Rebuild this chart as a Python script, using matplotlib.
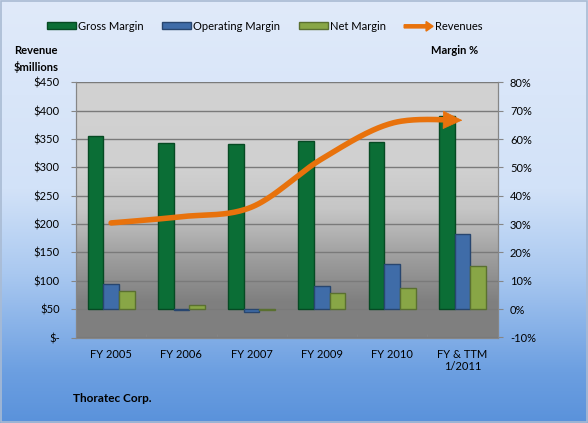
import numpy as np
import matplotlib
matplotlib.use("Agg")
import matplotlib.pyplot as plt
import matplotlib.patches as mpatches
from matplotlib.colors import LinearSegmentedColormap
from matplotlib.legend_handler import HandlerPatch
from matplotlib.ticker import FuncFormatter, FixedLocator

# ---- data ----
categories = ["FY 2005", "FY 2006", "FY 2007", "FY 2009", "FY 2010", "FY & TTM\n1/2011"]
gross_margin = [61.0, 58.7, 58.3, 59.3, 58.9, 68.1]
operating_margin = [9.0, -0.3, -1.0, 8.2, 15.9, 26.4]
net_margin = [6.4, 1.6, -0.3, 5.8, 7.4, 15.3]
revenues = [202, 213, 230, 315, 378, 383]
left_ticks = [0, 50, 100, 150, 200, 250, 300, 350, 400, 450]
right_ticks = [-10, 0, 10, 20, 30, 40, 50, 60, 70, 80]

plt.rcParams['font.family'] = ['Lato', 'DejaVu Sans']
plt.rcParams['font.size'] = 8

ORANGE = "#e8720c"
W, H = 588, 423
fig = plt.figure(figsize=(W / 100, H / 100), dpi=100)

# figure background gradient
bg = fig.add_axes([0, 0, 1, 1], zorder=-10)
bg_cmap = LinearSegmentedColormap.from_list(
    "bgc", [(0.0, "#5a92db"), (0.12, "#6c9fe1"), (0.35, "#a9c8f0"),
            (0.55, "#d2e2f8"), (1.0, "#e0eafa")])
grad = np.linspace(0, 1, 256).reshape(-1, 1)
bg.imshow(grad, cmap=bg_cmap, origin="lower", extent=[0, 1, 0, 1], aspect="auto")
bg.add_patch(mpatches.Rectangle((0.001, 0.002), 0.997, 0.996, fill=False,
                                edgecolor="#a9bbd3", linewidth=1.2))
bg.set_xlim(0, 1); bg.set_ylim(0, 1)
bg.axis("off")

left, right = 76 / W, 497.5 / W
bottom, top = 1 - 337.5 / H, 1 - 82.3 / H
ax = fig.add_axes([left, bottom, right - left, top - bottom])  # percent axis (bars)
ax2 = ax.twinx()  # dollar axis (line)

# plot area gradient
pa_cmap = LinearSegmentedColormap.from_list(
    "pac", [(0.0, "#7f7f7f"), (0.14, "#808080"), (0.3, "#9c9c9c"),
            (0.5, "#c6c6c6"), (0.65, "#d0d0d0"), (1.0, "#d2d2d2")])
ax.imshow(grad, cmap=pa_cmap, origin="lower", extent=[0, 1, 0, 1],
          transform=ax.transAxes, aspect="auto", zorder=0)

x = np.arange(len(categories))
bw = 0.222
ax.bar(x - bw, gross_margin, bw, color="#0b6e36", edgecolor="#064a23", linewidth=1.0, zorder=3)
ax.bar(x, operating_margin, bw, color="#3f6ca8", edgecolor="#28466f", linewidth=1.0, zorder=3)
ax.bar(x + bw, net_margin, bw, color="#88a646", edgecolor="#5a7030", linewidth=1.0, zorder=3)

ax.set_xlim(-0.5, len(categories) - 0.5)
ax.set_ylim(-10, 80)
ax.yaxis.set_major_locator(FixedLocator(right_ticks))
ax.yaxis.set_major_formatter(FuncFormatter(lambda v, p: f"{int(v)}%"))
ax.grid(axis="y", color="#7a7a7a", linewidth=1.0, zorder=1)
ax.set_axisbelow(True)
ax.yaxis.tick_right()
ax.tick_params(axis="y", which="major", direction="out", length=3.6, color="#868686",
               pad=5.4, labelsize=8)

# x ticks
ax.set_xticks(x)
ax.set_xticklabels(categories)
ax.tick_params(axis="x", which="major", length=0, pad=8, labelsize=8)
ax.set_xticks(np.arange(-0.5, len(categories)), minor=True)
ax.tick_params(axis="x", which="minor", direction="in", length=3, color="#868686")

for s in ["left", "right", "bottom"]:
    ax.spines[s].set_color("#868686")
    ax2.spines[s].set_color("#868686")
ax.spines["top"].set_visible(False)
ax2.spines["top"].set_visible(False)

# smooth revenue line (Hermite spline through the data points)
xs = x.astype(float)
ys = np.array(revenues, dtype=float)
P = np.vstack([xs, ys]).T
ext = np.vstack([P[0] - (P[1] - P[0]), P, P[-1] + (P[-1] - P[-2])])
curve = []
for i in range(1, len(ext) - 2):
    p0, p1, p2, p3 = ext[i - 1], ext[i], ext[i + 1], ext[i + 2]
    t1 = (p2 - p0) / 2
    t2 = (p3 - p1) / 2
    if i == 1:
        t1 = (p2 - p1) * 0.5
    if i == len(ext) - 3:
        t2 = (p2 - p1) * 0.5
    for t in np.linspace(0, 1, 40, endpoint=False):
        h00 = 2 * t**3 - 3 * t**2 + 1
        h10 = t**3 - 2 * t**2 + t
        h01 = -2 * t**3 + 3 * t**2
        h11 = t**3 - t**2
        curve.append(h00 * p1 + h10 * t1 + h01 * p2 + h11 * t2)
curve.append(P[-1])
curve = np.array(curve)
cut = len(curve) - 9
ax2.plot(curve[:cut + 1, 0], curve[:cut + 1, 1], color=ORANGE, linewidth=4.0,
         solid_capstyle="round", zorder=5)
ax2.annotate("", xy=(curve[-1, 0], curve[-1, 1]), xytext=(curve[cut - 2, 0], curve[cut - 2, 1]),
             arrowprops=dict(arrowstyle="-|>,head_length=1.3,head_width=0.62",
                             color=ORANGE, linewidth=0.6, mutation_scale=10,
                             shrinkA=0, shrinkB=0), zorder=6)

ax2.set_ylim(0, 450)
ax2.yaxis.set_major_locator(FixedLocator(left_ticks))
ax2.yaxis.set_major_formatter(FuncFormatter(lambda v, p: "$-" if v == 0 else f"${int(v)}"))
ax2.yaxis.tick_left()
ax2.tick_params(axis="y", direction="out", length=3.6, color="#868686", pad=8, labelsize=8)
ax2.patch.set_visible(False)

# legend
def make_arrow(legend, orig_handle, xdescent, ydescent, width, height, fontsize):
    return mpatches.FancyArrow(0, height / 2, width, 0, width=height * 0.5,
                               head_width=height * 1.5, head_length=height * 1.1,
                               length_includes_head=True, color=ORANGE)

handles = [
    mpatches.Patch(facecolor="#0b6e36", edgecolor="#064a23", label="Gross Margin"),
    mpatches.Patch(facecolor="#3f6ca8", edgecolor="#28466f", label="Operating Margin"),
    mpatches.Patch(facecolor="#88a646", edgecolor="#5a7030", label="Net Margin"),
    mpatches.FancyArrow(0, 0, 1, 0, color=ORANGE, label="Revenues"),
]
fig.legend(handles=handles, loc="center", bbox_to_anchor=(265 / W, 1 - 26 / H),
           ncol=4, frameon=False, fontsize=8, handlelength=2.6, handleheight=0.5,
           handletextpad=0.2, columnspacing=1.65,
           handler_map={mpatches.FancyArrow: HandlerPatch(patch_func=make_arrow)})

fig.text(14 / W, 1 - 59 / H, "Revenue\n$millions", ha="left", va="center",
         fontweight="bold", fontsize=8, linespacing=1.5)
fig.text(431 / W, 1 - 51 / H, "Margin %", ha="left", va="center",
         fontweight="bold", fontsize=8)
fig.text(73 / W, 1 - 398 / H, "Thoratec Corp.", ha="left", va="center",
         fontweight="bold", fontsize=8.5)

fig.savefig("out.png", dpi=100)
